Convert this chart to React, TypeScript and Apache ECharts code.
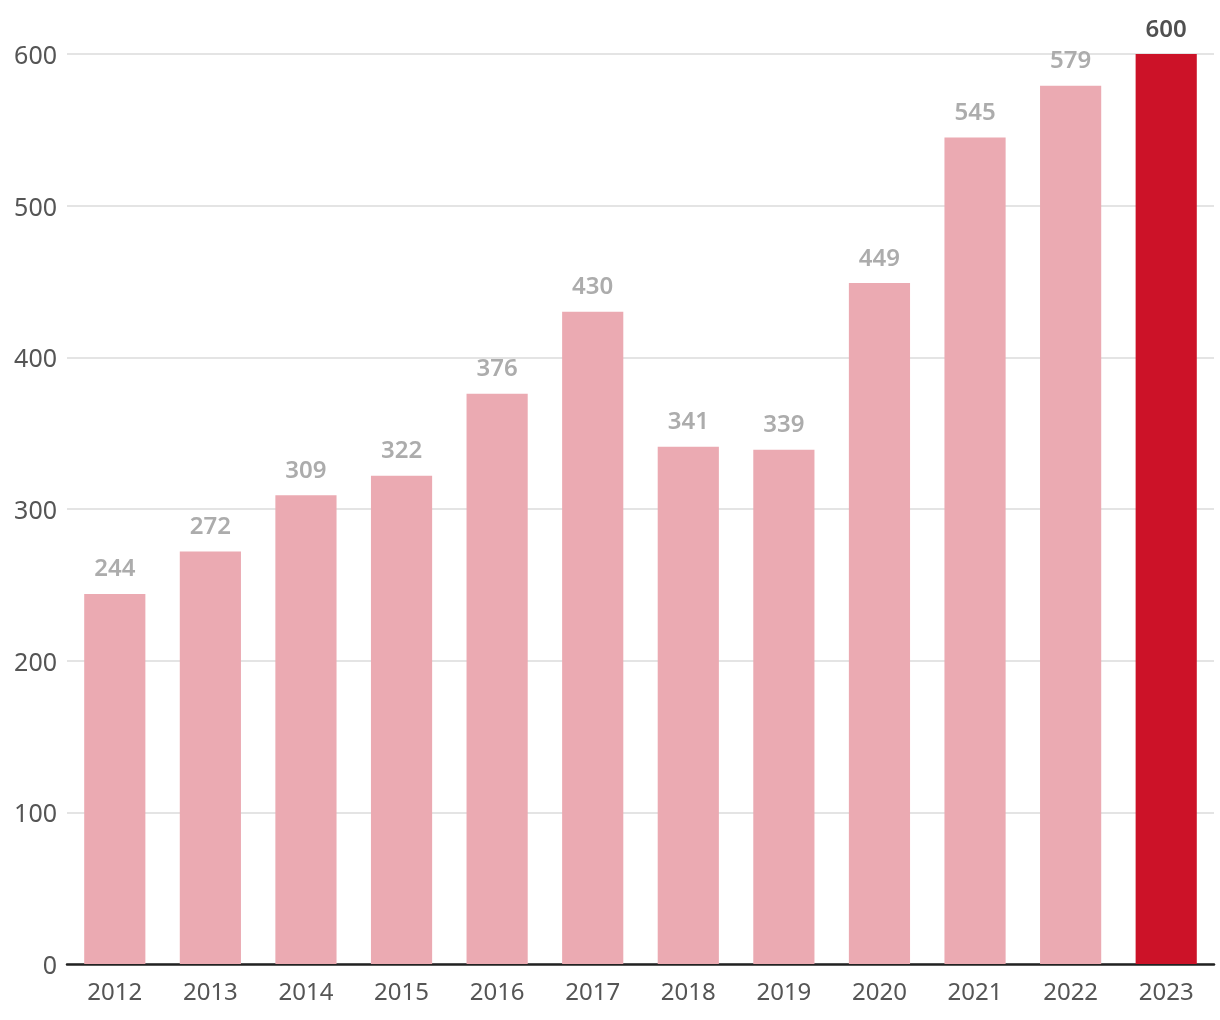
import React, { useEffect, useRef } from "react";
import * as echarts from "echarts";

const years = ["2012", "2013", "2014", "2015", "2016", "2017", "2018", "2019", "2020", "2021", "2022", "2023"];
const values = [244, 272, 309, 322, 376, 430, 341, 339, 449, 545, 579, 600];
const highlightYear = "2023";
const yTicks = { min: 0, max: 600, interval: 100 };

const FONT = "'Noto Sans', 'Open Sans', sans-serif";

export default function App() {
  const ref = useRef<HTMLDivElement>(null);
  useEffect(() => {
    if (!ref.current) return;
    const chart = echarts.init(ref.current, undefined, { renderer: "svg" });
    chart.setOption({
      animation: false,
      grid: { left: 67, right: 6, top: 54, bottom: 56, containLabel: false },
      xAxis: {
        type: "category",
        data: years,
        axisLine: { show: true, lineStyle: { color: "#222", width: 2.5 } },
        axisTick: { show: false },
        axisLabel: { color: "#555", fontSize: 24, fontFamily: FONT, margin: 14 },
      },
      yAxis: {
        type: "value",
        min: yTicks.min,
        max: yTicks.max,
        interval: yTicks.interval,
        axisLine: { show: false },
        axisTick: { show: false },
        splitLine: { lineStyle: { color: "#e4e4e4", width: 2 } },
        axisLabel: { color: "#555", fontSize: 25, fontFamily: FONT, margin: 10 },
      },
      series: [
        {
          type: "bar",
          barWidth: "64%",
          data: values.map((v, i) => {
            const hi = years[i] === highlightYear;
            return {
              value: v,
              itemStyle: { color: hi ? "#cc1228" : "#ebaab2" },
              label: {
                show: true,
                position: "top",
                distance: 15,
                fontSize: 24,
                fontWeight: 600,
                fontFamily: FONT,
                color: hi ? "#505050" : "#acacac",
              },
            };
          }),
        },
      ],
    });
    return () => chart.dispose();
  }, []);
  return <div ref={ref} style={{ position: "fixed", left: 0, top: 0, width: 1220, height: 1020 }} />;
}
